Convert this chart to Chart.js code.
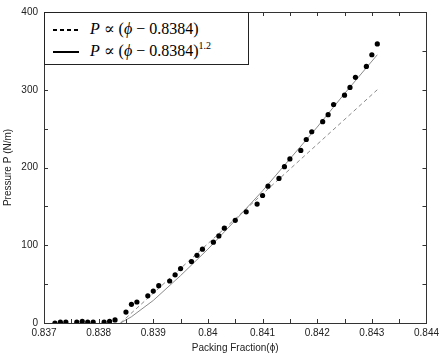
<!DOCTYPE html>
<html lang="en">
<head>
    <meta charset="UTF-8">
    <title>Pressure vs packing fraction</title>
    <script src="https://cdn.jsdelivr.net/npm/chart.js@4.4.1/dist/chart.umd.min.js"></script>
    <style>
        body { margin: 0; background: #fff; }
        #wrap { position: relative; width: 443px; height: 359px; }
        #legend {
            position: absolute; box-sizing: border-box; width: 205px; height: 53px;
            border: 1px solid #222; background: #fff;
            font-family: "Liberation Serif", "DejaVu Serif", serif; font-size: 16px; color: #000;
        }
        #legend .row { position: absolute; left: 8px; height: 20px; line-height: 20px; white-space: nowrap; }
        #legend .sample { display: inline-block; width: 26px; height: 2px; vertical-align: middle; margin-right: 11px; }
        #legend .dash { background: repeating-linear-gradient(90deg, #000 0 4px, transparent 4px 7px); }
        #legend .solid { background: #000; }
        #legend .op { margin: 0 4px; }
        #legend sup { font-size: 10px; vertical-align: 7px; line-height: 0; }
    </style>
</head>
<body>
    <div id="wrap">
        <canvas id="chart" width="443" height="359"></canvas>
        <div id="legend">
            <div class="row" style="top:6px"><span class="sample dash"></span><i>P</i><span class="op">&#8733;</span>(<i>&#981;</i><span class="op">&minus;</span>0.8384)</div>
            <div class="row" style="top:28px"><span class="sample solid"></span><i>P</i><span class="op">&#8733;</span>(<i>&#981;</i><span class="op">&minus;</span>0.8384)<sup>1.2</sup></div>
        </div>
    </div>
    <script>
    // measured points
    const phi = [0.8372, 0.8373, 0.8374, 0.8376, 0.8377, 0.8378, 0.8379, 0.8381, 0.8382, 0.8383,
                 0.8385, 0.8386, 0.8387, 0.8389, 0.8390, 0.8391, 0.8393, 0.8394, 0.8395, 0.8397,
                 0.8398, 0.8399, 0.8401, 0.8402, 0.8403, 0.8405, 0.8407, 0.8409, 0.8410, 0.8411,
                 0.8413, 0.8414, 0.8415, 0.8417, 0.8418, 0.8419, 0.8421, 0.8422, 0.8423, 0.8425,
                 0.8426, 0.8427, 0.8429, 0.8430, 0.8431]
    const pressure = [0, 1, 1, 1, 2, 1, 1, 1, 2, 4,
                      14, 24, 27, 35, 41, 48, 54, 62, 70, 79,
                      87, 95, 104, 112, 122, 132, 143, 153, 164, 176,
                      186, 201, 211, 222, 236, 246, 259, 268, 281, 293,
                      303, 316, 330, 345, 359]

    // linear fit (dashed)
    const linPhi = [0.8384, 0.8431]
    const linP = [0, 300]

    // power 1.2 fit (solid)
    const powPhi = [0.8384, 0.8386, 0.8390, 0.8395, 0.8400, 0.8405, 0.8410, 0.8415, 0.8420, 0.8425, 0.8431]
    const powP = [0, 8, 29, 61, 95, 132, 170, 211, 252, 295, 345]

    const xTickLabels = ['0.837', '0.838', '0.839', '0.84', '0.841', '0.842', '0.843', '0.844']
    const yTickLabels = ['0', '100', '200', '300', '400']

    const pts = (xs, ys) => xs.map((x, i) => ({x: x, y: ys[i]}))

    // frame around the plot + inward tick marks, legend placement
    const framePlugin = {
        id: 'frame',
        afterDraw(chart) {
            const {ctx, chartArea: a, scales} = chart
            ctx.save()
            ctx.strokeStyle = '#333'
            ctx.lineWidth = 1
            ctx.strokeRect(Math.round(a.left) + 0.5, Math.round(a.top) + 0.5,
                Math.round(a.right - a.left), Math.round(a.bottom - a.top))
            ctx.beginPath()
            scales.x.ticks.forEach(t => {
                const px = Math.round(scales.x.getPixelForValue(t.value)) + 0.5
                ctx.moveTo(px, a.bottom); ctx.lineTo(px, a.bottom - 4)
                ctx.moveTo(px, a.top); ctx.lineTo(px, a.top + 4)
            })
            scales.y.ticks.forEach(t => {
                const py = Math.round(scales.y.getPixelForValue(t.value)) + 0.5
                ctx.moveTo(a.left, py); ctx.lineTo(a.left + 4, py)
                ctx.moveTo(a.right, py); ctx.lineTo(a.right - 4, py)
            })
            ctx.stroke()
            ctx.restore()
            const lg = document.getElementById('legend')
            lg.style.left = Math.round(a.left) + 'px'
            lg.style.top = Math.round(a.top) + 'px'
        }
    }

    const tickFont = {family: '"Liberation Sans", Arial, sans-serif', size: 10}

    new Chart(document.getElementById('chart').getContext('2d'), {
        type: 'scatter',
        data: {
            datasets: [
                {
                    label: 'data',
                    data: pts(phi, pressure),
                    backgroundColor: '#000',
                    borderColor: '#000',
                    pointRadius: 2.6,
                    pointBorderWidth: 0,
                    order: 0
                },
                {
                    label: 'linear',
                    data: pts(linPhi, linP),
                    showLine: true,
                    pointRadius: 0,
                    borderColor: '#8a8a8a',
                    borderWidth: 1,
                    borderDash: [4, 3],
                    order: 1
                },
                {
                    label: 'power',
                    data: pts(powPhi, powP),
                    showLine: true,
                    pointRadius: 0,
                    borderColor: '#8a8a8a',
                    borderWidth: 1,
                    order: 1
                }
            ]
        },
        options: {
            responsive: false,
            animation: false,
            layout: {padding: {left: 0, right: 15, top: 8, bottom: 0}},
            plugins: {legend: {display: false}, tooltip: {enabled: false}},
            scales: {
                x: {
                    type: 'linear',
                    min: 0.837,
                    max: 0.844,
                    grid: {display: false, drawTicks: false},
                    border: {display: false},
                    ticks: {
                        stepSize: 0.0005,
                        padding: 4,
                        color: '#222',
                        font: tickFont,
                        maxRotation: 0,
                        autoSkip: false,
                        callback: v => {
                            const k = Math.round((v - 0.837) * 2000)
                            return k % 2 === 0 ? xTickLabels[k / 2] : ''
                        }
                    },
                    title: {
                        display: true,
                        text: 'Packing Fraction(\u03d5)',
                        color: '#222',
                        font: tickFont,
                        padding: {top: 0, bottom: 5}
                    },
                    afterFit: s => { s.height = 36 }
                },
                y: {
                    min: 0,
                    max: 400,
                    grid: {display: false, drawTicks: false},
                    border: {display: false},
                    ticks: {
                        stepSize: 50,
                        padding: 6,
                        color: '#222',
                        font: tickFont,
                        callback: v => (v % 100 === 0 ? yTickLabels[v / 100] : '')
                    },
                    title: {
                        display: true,
                        text: 'Pressure P (N/m)',
                        color: '#222',
                        font: tickFont,
                        padding: {top: 2, bottom: 0}
                    },
                    afterFit: s => { s.width = 44 }
                }
            }
        },
        plugins: [framePlugin]
    })
    </script>
</body>
</html>
